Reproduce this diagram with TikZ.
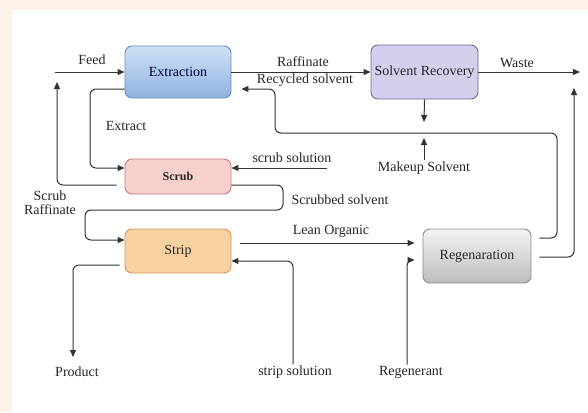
\documentclass[tikz,border=0pt]{standalone}
\usepackage{fontspec}
\setmainfont{Liberation Serif}
\usetikzlibrary{arrows.meta}
\definecolor{cream}{HTML}{FDF3EA}
\definecolor{linec}{HTML}{333333}
\definecolor{extline}{HTML}{6A8FC0}
\definecolor{exttop}{HTML}{CFE0F5}
\definecolor{extbot}{HTML}{8FB3E0}
\definecolor{recfill}{HTML}{D3D0EE}
\definecolor{recline}{HTML}{6E6C85}
\definecolor{scrfill}{HTML}{F7D0CC}
\definecolor{scrline}{HTML}{C77A76}
\definecolor{stpfill}{HTML}{F8D1A0}
\definecolor{stpline}{HTML}{D09A55}
\definecolor{regtop}{HTML}{F3F3F3}
\definecolor{regbot}{HTML}{BDBDBD}
\definecolor{regline}{HTML}{8A8A8A}
\begin{document}
\begin{tikzpicture}[x=1pt, y=-1pt,
	unit/.style={draw, rounded corners=7pt, line width=0.9pt, minimum width=106pt, font=\fontsize{14}{16}\selectfont, text=black!85, inner sep=0pt},
	lbl/.style={font=\fontsize{14}{16}\selectfont, text=black!85, inner sep=1pt},
	flow/.style={line width=1pt, draw=linec, rounded corners=6pt, -{Triangle[length=7pt,width=6pt]}}]
		%\draw[red] (0,0) rectangle (588,412);
		\fill[cream] (0,0) rectangle (588,412);
		\fill[white] (12,10) rectangle (588,412);
		
		\node[unit, minimum height=52pt, draw=extline, top color=exttop, bottom color=extbot, text=blue!25!black] (ext) at (178,72) {Extraction};
		\node[unit, minimum width=107pt, minimum height=54pt, draw=recline, fill=recfill] (rec) at (424.5,72) {Solvent Recovery};
		\node[unit, minimum height=35pt, draw=scrline, fill=scrfill, font=\fontsize{12}{14}\selectfont\bfseries] (scr) at (178,176.5) {Scrub};
		\node[unit, minimum height=44pt, draw=stpline, fill=stpfill] (stp) at (178,251) {Strip};
		\node[unit, minimum width=108pt, minimum height=54pt, draw=regline, top color=regtop, bottom color=regbot] (reg) at (477,256) {Regenaration};
		
		\node[lbl] (feed) at (92,60) {Feed};
		\node[lbl] (extr) at (126,126) {Extract};
		\node[lbl] (raff) at (303,62) {Raffinate};
		\node[lbl] (recy) at (305,80) {Recycled solvent};
		\node[lbl] (wst) at (517,63) {Waste};
		\node[lbl] (ssol) at (292,158) {scrub solution};
		\node[lbl] (mkup) at (424,168) {Makeup Solvent};
		\node[lbl, align=center] (sraf) at (50,203) {Scrub\\[-2pt]Raffinate};
		\node[lbl] (sbsol) at (340,200) {Scrubbed solvent};
		\node[lbl] (lean) at (331,231) {Lean Organic};
		\node[lbl] (prod) at (77,372) {Product};
		\node[lbl] (stsol) at (295,372) {strip solution};
		\node[lbl] (regt) at (411,372) {Regenerant};
		
		\coordinate (feedin) at (55,72);
		\coordinate (wasteout) at (580,72);
		\coordinate (rafup) at (57,82);
		\coordinate (recdn) at (424,122);
		\coordinate (mkin) at (424,138);
		\coordinate (scrin) at (327,168);
		\coordinate (wasteup) at (574,88);
		\coordinate (prodout) at (73,357);
		
		\draw[flow] (feedin) -- (ext.west);
		\draw[flow] (ext.east) -- (rec.west);
		\draw[flow] (rec.east) -- (wasteout);
		\draw[flow] (rec.south) -- (recdn);
		\draw[flow] (mkup.north) -- (mkin);
		\draw[flow] (ext.west |- 0,89) -- (90,89) -- (90,168) -- (scr.west |- 0,168);
		\draw[flow, shorten <=8pt] (scr.west |- 0,185) -- (57,185) -- (rafup);
		\draw[flow] (scrin) -- (scr.east |- 0,168);
		\draw[flow] (scr.east |- 0,185) -- (283,185) -- (283,210) -- (85,210) -- (85,240) -- (stp.west |- 0,240);
		\draw[flow, shorten <=9pt, shorten >=8pt] (stp.east |- 0,243) -- (reg.west |- 0,243);
		\draw[flow] (stsol.north -| 293,0) -- (293,261) -- (stp.east |- 0,261);
		\draw[flow, shorten <=5pt] (stp.west |- 0,265) -- (73,265) -- (prodout);
		\draw[flow, shorten >=8pt] (regt.north -| 407,0) -- (407,260) -- (reg.west |- 0,260);
		\draw[flow, shorten <=8pt, shorten >=10pt] (reg.east |- 0,238) -- (557,238) -- (557,133) -- (275,133) -- (275,89) -- (ext.east |- 0,89);
		\draw[flow, shorten <=8pt] (reg.east |- 0,257) -- (574,257) -- (wasteup);
		
\end{tikzpicture}
\end{document}
